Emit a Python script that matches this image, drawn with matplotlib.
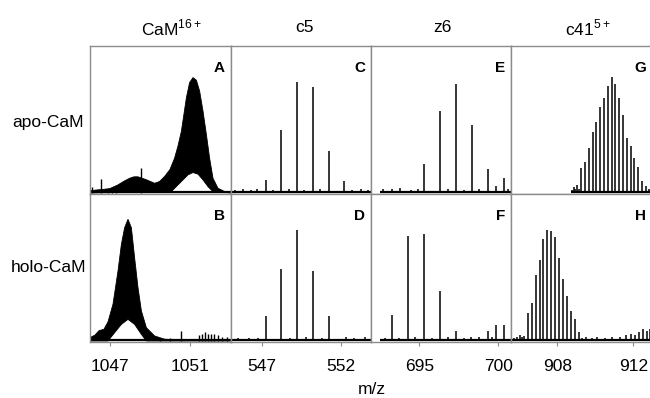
"""
Top-down MS panels: apo- vs holo-CaM, intact ion and three fragments.
"""
import matplotlib
matplotlib.use("Agg")
import matplotlib.pyplot as plt
import numpy as np

plt.rcParams["font.family"] = ["Liberation Sans", "DejaVu Sans"]

W, H = 650, 398
GRAY = "#8c8c8c"

# ---- column 1: CaM 16+ (unresolved isotopes -> envelope) ----
a_up_x = [1046.0, 1046.3, 1046.7, 1047.0, 1047.4, 1047.7, 1047.98, 1048.2, 1048.4,
          1048.82, 1049.23, 1049.48, 1049.73, 1050.0, 1050.23, 1050.4, 1050.57,
          1050.82, 1050.98, 1051.15, 1051.32, 1051.48, 1051.65, 1051.82, 1051.98,
          1052.15, 1052.4, 1052.73, 1053.05]
a_up_y = [1.5, 2, 2.5, 3, 5.5, 8, 10, 11, 11, 9, 6.6, 7.8, 11.2, 16, 23.7, 32, 42,
          64.8, 75.1, 78.5, 76.7, 69.4, 55.7, 39.7, 23.7, 10, 3.2, 1, 0.5]
a_lo_x = [1053.05, 1052.15, 1051.9, 1051.65, 1051.4, 1051.15, 1050.9, 1050.73,
          1050.4, 1050.07, 1046.0]
a_lo_y = [0, 0.9, 4.3, 8.9, 12.8, 13.9, 12.3, 10, 5.5, 1, 0]
a_spk_x = [1046.08, 1046.57, 1046.9, 1047.1, 1047.3, 1048.53]
a_spk_y = [4, 9.6, 3, 4, 5, 16.9]

b_up_x = [1046.0, 1046.25, 1046.45, 1046.7, 1046.9, 1047.15, 1047.4, 1047.57,
          1047.73, 1047.9, 1048.07, 1048.23, 1048.4, 1048.57, 1048.82, 1049.23,
          1049.73, 1050.2, 1053.05]
b_up_y = [2.3, 4, 7, 8, 13, 25, 47.6, 65.8, 77, 82.8, 77, 56.7, 36.3, 20.4, 9,
          3.4, 1.2, 0.8, 0.5]
b_lo_x = [1053.05, 1048.82, 1048.57, 1048.23, 1047.9, 1047.57, 1047.3, 1046.9, 1046.0]
b_lo_y = [0, 0, 4.5, 11.3, 14.7, 11.3, 6.8, 0, 0]
b_spk_x = [1049.5, 1050.0, 1050.53, 1051.45, 1051.6, 1051.75, 1051.9, 1052.05,
           1052.2, 1052.4, 1052.6, 1052.85]
b_spk_y = [2, 2, 6.8, 4, 5, 6, 5, 4.5, 5, 4, 3, 3]

# ---- column 2: c5 ----
c_x = [545.3, 545.8, 546.3, 546.7, 547.25, 547.7, 548.25, 548.7, 549.25, 549.7,
       550.22, 550.7, 551.22, 552.22, 552.7, 553.3, 553.7]
c_y = [2, 2.5, 2, 3, 8.8, 2, 42.9, 3, 75.5, 2, 71.9, 2.5, 28.8, 8.2, 2, 3, 2]
d_x = [545.5, 546.2, 546.8, 547.25, 548.25, 548.8, 549.25, 549.8, 550.22, 550.8,
       551.22, 552.3, 552.8, 553.5]
d_y = [2, 2, 2, 16.7, 49.2, 2, 75.5, 3, 47.6, 2, 17.2, 2.7, 2, 3]

# ---- column 3: z6 ----
e_x = [692.7, 693.3, 693.8, 694.5, 694.9, 695.3, 696.31, 696.8, 697.34,
       697.8, 698.35, 698.8, 699.37, 699.87, 700.38, 700.6]
e_y = [2.5, 3, 3.5, 2, 3, 19.9, 55.6, 2.5, 74.4, 2, 46.3, 2.5, 16.3, 5, 10, 3]
f_x = [692.8, 693.25, 693.7, 694.27, 694.7, 695.3, 695.8, 696.31, 696.8,
       697.34, 697.8, 698.3, 698.8, 699.37, 699.6, 699.87, 700.38]
f_y = [2, 17.4, 2, 71.4, 2.5, 73, 2, 33.8, 2.5, 6.6, 2, 2.5, 3, 6.8, 2.5, 11.1, 11.1]

# ---- column 4: c41 5+ ----
g_x = [908.75, 908.85, 908.95, 909.05, 909.15, 909.25, 909.45, 909.65, 909.85,
       910.05, 910.25, 910.45, 910.65, 910.85, 911.05, 911.25, 911.45, 911.65,
       911.85, 912.05, 912.25, 912.45, 912.65, 912.8]
g_y = [2, 4, 2.5, 5.6, 3, 17, 20.8, 30.3, 41.5, 48, 58.2, 64.6, 73, 78.9, 74.1,
       64.6, 53.3, 37.4, 31.7, 23.8, 17.4, 7.9, 4.5, 3]
h_x = [905.7, 905.9, 906.05, 906.15, 906.25, 906.44, 906.65, 906.86, 907.07,
       907.26, 907.46, 907.67, 907.88, 908.09, 908.3, 908.51, 908.72, 908.92,
       909.13, 909.3, 909.5, 909.8, 910.1, 910.5, 910.9, 911.3, 911.6, 911.9,
       912.1, 912.3, 912.5, 912.7, 912.85]
h_y = [2, 3, 4, 3, 3.4, 19, 26, 44.6, 54.8, 69.6, 75.5, 74.8, 70.7, 56.7, 42.4,
       30.6, 20.4, 14.7, 6.1, 2, 3, 2, 2.5, 2, 3, 2.5, 4, 5, 4, 6, 8, 7, 8]

col_titles = [r"CaM$^{\mathregular{16+}}$", "c5", "z6", r"c41$^{\mathregular{5+}}$"]
col_title_x = [172, 305, 442, 588]
row_labels = ["apo-CaM", "holo-CaM"]
letters = [["A", "C", "E", "G"], ["B", "D", "F", "H"]]
xlims = [(1046.0, 1053.05), (545.07, 553.9), (691.94, 700.8), (905.56, 912.98)]
xticks = [[1047, 1051], [547, 552], [695, 700], [908, 912]]

# panel edges in pixels
col_px = [90, 231, 371, 511, 652]
row_px = [(46, 194), (194, 342)]


def draw_envelope(ax, ux, uy, lx, ly, sx, sy):
    ax.fill(np.r_[ux, lx], np.r_[uy, ly], color="black", lw=0.6, ec="black")
    ax.vlines(sx, 0, sy, color="black", lw=1.0)


def draw_sticks(ax, x, y):
    ax.vlines(x, 0, y, color="black", lw=1.1)


fig = plt.figure(figsize=(W / 100, H / 100), dpi=100)
axes = [[None] * 4 for _ in range(2)]
for r, (top, bot) in enumerate(row_px):
    for c in range(4):
        l, rr = col_px[c], col_px[c + 1]
        ax = fig.add_axes([l / W, 1 - bot / H, (rr - l) / W, (bot - top) / H])
        ax.set_xlim(*xlims[c])
        ax.set_ylim(-0.7, 100)
        ax.set_yticks([])
        for s in ax.spines.values():
            s.set_color(GRAY)
            s.set_linewidth(1.0)
        if r == 1:
            ax.set_xticks(xticks[c])
            ax.tick_params(axis="x", direction="out", length=3, color=GRAY,
                           labelsize=12.5, pad=9)
        else:
            ax.set_xticks([])
        ax.text(1 - 6 / (rr - l), 0.9, letters[r][c], transform=ax.transAxes,
                ha="right", va="top", fontsize=11, fontweight="bold")
        axes[r][c] = ax

draw_envelope(axes[0][0], a_up_x, a_up_y, a_lo_x, a_lo_y, a_spk_x, a_spk_y)
draw_envelope(axes[1][0], b_up_x, b_up_y, b_lo_x, b_lo_y, b_spk_x, b_spk_y)
draw_sticks(axes[0][1], c_x, c_y)
draw_sticks(axes[1][1], d_x, d_y)
draw_sticks(axes[0][2], e_x, e_y)
draw_sticks(axes[1][2], f_x, f_y)
draw_sticks(axes[0][3], g_x, g_y)
draw_sticks(axes[1][3], h_x, h_y)

# noisy baseline of each spectrum
for r in range(2):
    for c in range(4):
        x0 = xlims[c][0]
        if r == 0 and c == 3:
            x0 = 908.7
        elif c == 2:
            x0 = 692.5
        axes[r][c].plot([x0, xlims[c][1]], [0.6, 0.6], color="black", lw=1.6,
                        solid_capstyle="butt")

for t, x in zip(col_titles, col_title_x):
    fig.text(x / W, 1 - 28 / H, t, ha="center", va="center", fontsize=12.5)
fig.text(48 / W, 1 - 122 / H, row_labels[0], ha="center", va="center", fontsize=12.5)
fig.text(49 / W, 1 - 267 / H, row_labels[1], ha="center", va="center", fontsize=12.5)
fig.text(372 / W, 1 - 389 / H, "m/z", ha="center", va="center", fontsize=12.5)

fig.savefig("out.png", dpi=100)
